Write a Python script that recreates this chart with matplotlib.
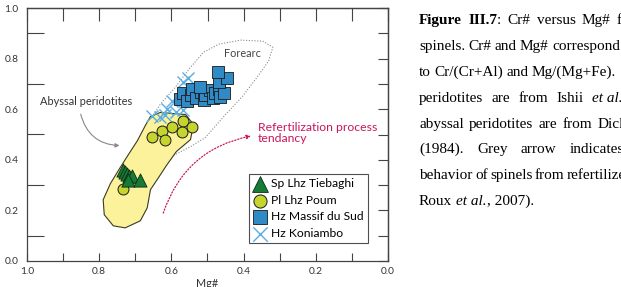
import numpy as np
import matplotlib
matplotlib.use("Agg")
import matplotlib.pyplot as plt
from matplotlib.patches import Polygon

plt.rcParams['font.family'] = ['Lato', 'DejaVu Sans']

# abyssal peridotite field (Mg#, Cr#)
abyssal_mg = [0.658, 0.631, 0.561, 0.539, 0.547, 0.586, 0.614, 0.636, 0.658, 0.667,
              0.686, 0.728, 0.761, 0.786, 0.789, 0.769, 0.742, 0.719, 0.694, 0.672]
abyssal_cr = [0.571, 0.587, 0.579, 0.540, 0.480, 0.433, 0.377, 0.329, 0.282, 0.210,
              0.159, 0.131, 0.139, 0.183, 0.242, 0.306, 0.369, 0.421, 0.476, 0.536]

# forearc field
forearc_mg = [0.658, 0.631, 0.589, 0.547, 0.511, 0.469, 0.408, 0.347, 0.319, 0.331,
              0.367, 0.403, 0.450, 0.506, 0.547, 0.589, 0.617, 0.644]
forearc_cr = [0.560, 0.619, 0.687, 0.766, 0.825, 0.857, 0.873, 0.869, 0.845, 0.790,
              0.718, 0.651, 0.579, 0.488, 0.452, 0.421, 0.409, 0.440]

# samples
tieb_mg = [0.733, 0.728, 0.722, 0.717, 0.708, 0.719, 0.686]
tieb_cr = [0.361, 0.353, 0.345, 0.337, 0.337, 0.321, 0.321]

poum_mg = [0.653, 0.625, 0.617, 0.597, 0.567, 0.572, 0.544, 0.733]
poum_cr = [0.492, 0.512, 0.480, 0.528, 0.552, 0.508, 0.528, 0.286]

sud_mg = [0.575, 0.567, 0.556, 0.547, 0.542, 0.531, 0.519, 0.511, 0.506, 0.494,
          0.486, 0.478, 0.469, 0.464, 0.453, 0.469, 0.447, 0.472, 0.522]
sud_cr = [0.639, 0.663, 0.631, 0.655, 0.679, 0.643, 0.667, 0.635, 0.655, 0.675,
          0.643, 0.663, 0.679, 0.647, 0.663, 0.706, 0.722, 0.746, 0.687]

koni_mg = [0.653, 0.631, 0.611, 0.597, 0.586, 0.569, 0.569, 0.553, 0.617]
koni_cr = [0.575, 0.571, 0.599, 0.631, 0.587, 0.595, 0.706, 0.722, 0.579]

# caption: each line = (words, x of last word start in px or None for natural spacing)
# each word is a list of (text, style) runs
caption = [
    ([[('Figure', 'b')], [('III.7', 'b'), (':', 'n')], [('Cr#', 'n')], [('versus', 'n')],
      [('Mg#', 'n')], [('for', 'n')]], 617),
    ([[('spinels.', 'n')], [('Cr#', 'n')], [('and', 'n')], [('Mg#', 'n')],
      [('correspond', 'n')]], 552),
    ([[('to', 'n')], [('Cr/(Cr+Al)', 'n')], [('and', 'n')], [('Mg/(Mg+Fe).', 'n')]], 532),
    ([[('peridotites', 'n')], [('are', 'n')], [('from', 'n')], [('Ishii', 'n')],
      [('et al.', 'i')]], 592),
    ([[('abyssal', 'n')], [('peridotites', 'n')], [('are', 'n')], [('from', 'n')],
      [('Dick', 'n')]], 598),
    ([[('(1984).', 'n')], [('Grey', 'n')], [('arrow', 'n')], [('indicates', 'n')]], 570),
    ([[('behavior', 'n')], [('of', 'n')], [('spinels', 'n')], [('from', 'n')],
      [('refertilized', 'n')]], 567),
    ([[('Roux', 'n')], [('et al.', 'i'), (', 2007).', 'n')]], None),
]

fig = plt.figure(figsize=(6.21, 2.87), dpi=100)
ax = fig.add_axes([27/621, 26/287, 361/621, 253/287])

ax.add_patch(Polygon(np.column_stack([forearc_mg, forearc_cr]), closed=True,
                     fill=False, ec='#8a8a8a', ls=(0, (1, 1.5)), lw=0.8, zorder=1))
ax.add_patch(Polygon(np.column_stack([abyssal_mg, abyssal_cr]), closed=True,
                     fc='#fcf29c', ec='#3b3a22', lw=0.8, zorder=2))

ax.scatter(koni_mg, koni_cr, marker='x', s=75, c='#5aaee0', lw=1.0, zorder=3,
           label='Hz Koniambo')
ax.scatter(sud_mg, sud_cr, marker='s', s=80, c='#2f8ac6', ec='#1a1a1a', lw=0.6,
           zorder=4, label='Hz Massif du Sud')
ax.scatter(poum_mg, poum_cr, marker='o', s=62, c='#c6d42e', ec='#1a1a1a', lw=0.7,
           zorder=5, label='Pl Lhz Poum')
ax.scatter(tieb_mg, tieb_cr, marker='^', s=90, c='#177a36', ec='#0d2a12', lw=0.6,
           zorder=6, label='Sp Lhz Tiebaghi')

ax.text(0.403, 0.821, 'Forearc', fontsize=7.8, color='#444444', ha='center', va='center')
ax.text(0.964, 0.631, 'Abyssal peridotites', fontsize=7.9, color='#333333',
        ha='left', va='center')
ax.annotate('', xy=(0.736, 0.456), xytext=(0.853, 0.591),
            arrowprops=dict(arrowstyle='-|>', color='#888888', lw=0.8,
                            mutation_scale=6, connectionstyle='arc3,rad=0.4'))
red = '#c8175d'
ax.text(0.361, 0.506, 'Refertilization process\ntendancy', fontsize=8.8, color=red,
        ha='left', va='center', linespacing=1.05)
ax.annotate('', xy=(0.372, 0.496), xytext=(0.625, 0.179),
            arrowprops=dict(arrowstyle='-|>', color=red, lw=0.9, ls=(0, (1, 1.5)),
                            mutation_scale=6, connectionstyle='arc3,rad=-0.3'))

ax.set_xlim(1.0, 0.0)
ax.set_ylim(0.0, 1.0)
ax.set_xticks(np.arange(0, 1.01, 0.2))
ax.set_xticks(np.arange(0.1, 1.0, 0.2), minor=True)
ax.set_yticks(np.arange(0, 1.01, 0.2))
ax.set_yticks(np.arange(0.1, 1.0, 0.2), minor=True)
ax.set_xticklabels(['0.0', '0.2', '0.4', '0.6', '0.8', '1.0'])
ax.set_yticklabels(['0.0', '0.2', '0.4', '0.6', '0.8', '1.0'])
ax.tick_params(axis='x', which='both', direction='in', length=6, width=0.8,
               color='#444444', labelsize=7.3, labelcolor='#333333', pad=4)
ax.tick_params(axis='y', which='major', direction='in', length=0,
               labelsize=7.3, labelcolor='#333333', pad=6)
ax.tick_params(axis='y', which='minor', direction='in', length=12, width=0.8,
               color='#444444')
ax.set_xlabel('Mg#', fontsize=7.8, color='#333333', labelpad=2)

top = ax.secondary_xaxis('top')
top.set_xticks(np.arange(0, 1.01, 0.1))
top.tick_params(direction='in', length=9, width=0.8, color='#444444', labeltop=False)
right = ax.secondary_yaxis('right')
right.set_yticks(np.arange(0, 1.01, 0.1))
right.tick_params(direction='in', length=7, width=0.8, color='#444444', labelright=False)
for a in (ax, top, right):
    for sp in a.spines.values():
        sp.set_color('#444444')
        sp.set_linewidth(0.9)

h, l = ax.get_legend_handles_labels()
leg = ax.legend(h[::-1], l[::-1], loc='lower left', bbox_to_anchor=(0.615, 0.071),
                fontsize=8.7, frameon=True, fancybox=False, edgecolor='#222222',
                borderpad=0.35, labelspacing=0.45, handletextpad=0.25,
                handlelength=1.2, borderaxespad=0, markerscale=1.2)
leg.get_frame().set_linewidth(0.8)

# caption on the right, justified word by word
serif = ['Liberation Serif', 'DejaVu Serif']
renderer = fig.canvas.get_renderer()
ys = [24, 50, 76, 102, 128, 153, 179, 205]
x_start = 419


def put(txt, st, xp, yb):
    t = fig.text(xp / 621, 1 - yb / 287, txt, family=serif, fontsize=11,
                 weight='bold' if st == 'b' else 'normal',
                 style='italic' if st == 'i' else 'normal', va='baseline')
    bb = t.get_window_extent(renderer)
    return bb.width


def word_width(word):
    w = 0
    for txt, st in word:
        t = fig.text(0, 0, txt, family=serif, fontsize=11,
                     weight='bold' if st == 'b' else 'normal',
                     style='italic' if st == 'i' else 'normal')
        w += t.get_window_extent(renderer).width
        t.remove()
    return w


space = word_width([(' a', 'n')]) - word_width([('a', 'n')])
for (words, last_x), yb in zip(caption, ys):
    widths = [word_width(w) for w in words]
    if last_x is None:
        gap = space
    else:
        gap = max(2.0, (last_x - x_start - sum(widths[:-1])) / (len(words) - 1))
    xp = x_start
    for w, wd in zip(words, widths):
        xr = xp
        for txt, st in w:
            xr += put(txt, st, xr, yb)
        xp += wd + gap

fig.savefig('out.png', dpi=100)
